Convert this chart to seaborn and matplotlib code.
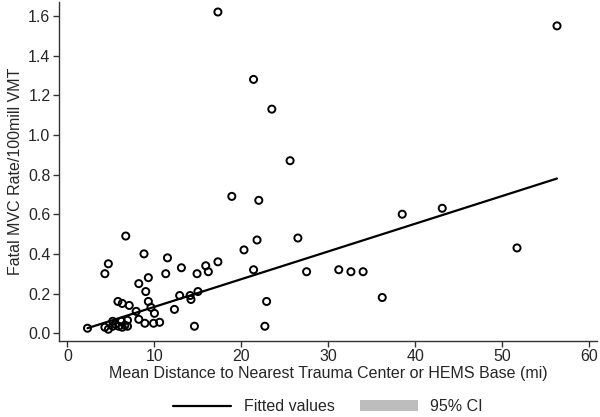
import numpy as np
import pandas as pd
import matplotlib
matplotlib.use("Agg")
import matplotlib.pyplot as plt
from matplotlib.lines import Line2D
from matplotlib.patches import Patch
import seaborn as sns

# values (distance in miles, fatal MVC rate)
distance = [17.3, 56.3, 21.4, 23.5, 25.6, 18.9, 22.0, 21.8, 26.5, 20.3,
            38.5, 43.1, 51.7, 36.2, 15.9, 16.2, 17.3, 21.4, 27.5, 31.2,
            32.6, 34.0, 22.9, 22.7, 6.7, 8.8, 11.5, 4.7, 4.3, 9.3,
            11.3, 13.1, 14.9, 8.2, 9.0, 9.3, 5.8, 6.3, 7.1, 7.9,
            9.6, 10.0, 12.3, 12.9, 14.1, 14.2, 15.0, 8.2, 8.9, 9.9,
            10.6, 14.6, 2.3, 4.3, 4.7, 5.2, 5.5, 5.9, 6.2, 6.6,
            6.9, 6.9, 6.3, 5.2]
rate = [1.62, 1.55, 1.28, 1.13, 0.87, 0.69, 0.67, 0.47, 0.48, 0.42,
        0.60, 0.63, 0.43, 0.18, 0.34, 0.31, 0.36, 0.32, 0.31, 0.32,
        0.31, 0.31, 0.16, 0.035, 0.49, 0.40, 0.38, 0.35, 0.30, 0.28,
        0.30, 0.33, 0.30, 0.25, 0.21, 0.16, 0.16, 0.15, 0.14, 0.11,
        0.13, 0.10, 0.12, 0.19, 0.19, 0.17, 0.21, 0.07, 0.05, 0.05,
        0.055, 0.035, 0.025, 0.03, 0.02, 0.06, 0.045, 0.035, 0.06, 0.04,
        0.065, 0.035, 0.03, 0.035]

# fitted line (intercept, slope)
fit_intercept = -0.007
fit_slope = 0.01398

df = pd.DataFrame({"dist": distance, "rate": rate})
fit_x = [min(distance), max(distance)]
fit = pd.DataFrame({"dist": fit_x,
                    "rate": [fit_intercept + fit_slope * v for v in fit_x]})

sns.set_style("ticks")
plt.rcParams["font.family"] = ["Liberation Sans", "DejaVu Sans"]

fig = plt.figure(figsize=(6, 4.17), dpi=100)
ax = fig.add_axes([0.098, 0.182, 0.897, 0.813])

sns.lineplot(data=fit, x="dist", y="rate", ax=ax, color="black",
             linewidth=1.6)
sns.scatterplot(data=df, x="dist", y="rate", ax=ax, marker="o", s=26,
                facecolor="none", edgecolor="black", linewidth=1.4, zorder=3)

ax.set_xlim(-1.0, 60.9)
ax.set_ylim(-0.04, 1.67)
ax.set_xticks(range(0, 61, 10))
ax.set_yticks(np.arange(0, 1.61, 0.2))
ax.yaxis.set_major_formatter(matplotlib.ticker.FormatStrFormatter("%.1f"))
ax.tick_params(labelsize=11.5, length=4, width=1, color="#333333", pad=2)
for sp in ["left", "bottom"]:
    ax.spines[sp].set_color("#333333")
    ax.spines[sp].set_linewidth(1)
sns.despine(ax=ax)

ax.set_xlabel("Mean Distance to Nearest Trauma Center or HEMS Base (mi)",
              fontsize=11.5, labelpad=1)
ax.set_ylabel("Fatal MVC Rate/100mill VMT", fontsize=11.5, labelpad=4)

handles = [Line2D([], [], color="black", linewidth=1.6),
           Patch(facecolor="#bdbdbd", edgecolor="none")]
fig.legend(handles, ["Fitted values", "95% CI"], loc="center",
           bbox_to_anchor=(0.547, 0.024), ncol=2, frameon=False, fontsize=11.5,
           handlelength=3.6, columnspacing=1.6, handletextpad=0.8)

fig.savefig("out.png", dpi=100)
